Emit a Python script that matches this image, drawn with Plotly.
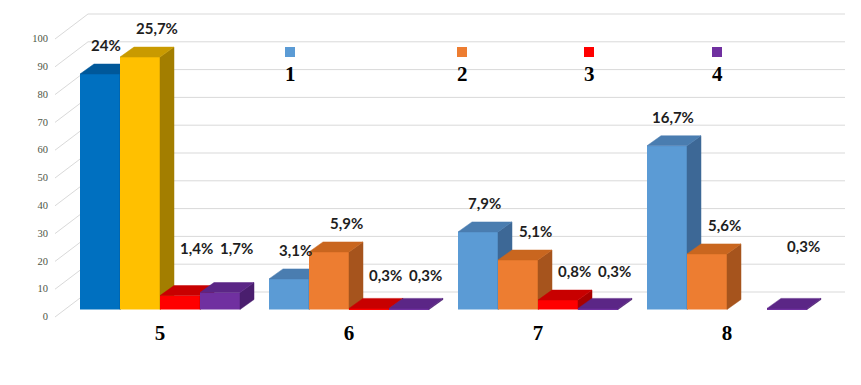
import plotly.graph_objects as go

# ---------------- data ----------------
CATEGORIES = ["5", "6", "7", "8"]
SERIES = ["1", "2", "3", "4"]
S1 = [84.7, 11.0, 27.9, 58.9]
S2 = [90.8, 20.7, 17.8, 20.0]
S3 = [5.0, 0.4, 3.4, 0.0]
S4 = [6.1, 0.4, 0.4, 0.4]
L1 = ["24%", "3,1%", "7,9%", "16,7%"]
L2 = ["25,7%", "5,9%", "5,1%", "5,6%"]
L3 = ["1,4%", "0,3%", "0,8%", ""]
L4 = ["1,7%", "0,3%", "0,3%", "0,3%"]
Y_TICKS = list(range(0, 101, 10))

VALUES = [S1, S2, S3, S4]
LABELS = [L1, L2, L3, L4]

# ---------------- styles ----------------
FRONT = [["#0070C0", "#5B9BD5", "#5B9BD5", "#5B9BD5"],
         ["#FFC000", "#ED7D31", "#ED7D31", "#ED7D31"],
         ["#FF0000"] * 4,
         ["#7030A0"] * 4]
TOP = [["#00589A", "#4A7DB0", "#4A7DB0", "#4A7DB0"],
       ["#C99A00", "#C9661F", "#C9661F", "#C9661F"],
       ["#C80000"] * 4,
       ["#5B2686"] * 4]
SIDE = [["#004B85", "#3D6896", "#3D6896", "#3D6896"],
        ["#A37E00", "#A6541D", "#A6541D", "#A6541D"],
        ["#A80000"] * 4,
        ["#4A1E6E"] * 4]
LEGEND_COLORS = ["#5B9BD5", "#ED7D31", "#FF0000", "#7030A0"]

W_PX, H_PX = 861, 385
ML, MR, MT, MB = 55, 16, 5, 63
PLOT_W = W_PX - ML - MR
PLOT_H = H_PX - MT - MB
PX_PER_X = 189.0
PX_PER_Y = 2.78
ZERO_PX = 309.5
X_RANGE = [-(160 - ML) / PX_PER_X, 3 + (W_PX - MR - 727) / PX_PER_X]
Y_RANGE = [-((H_PX - MB) - ZERO_PX) / PX_PER_Y, (ZERO_PX - MT) / PX_PER_Y]
BW = 40 / PX_PER_X
DX = 14 / PX_PER_X
DY = 10 / PX_PER_Y
OFFSETS = [-1.5 * BW, -0.5 * BW, 0.5 * BW, 1.5 * BW]
LABEL_FLOOR = [22, 12.5, 14, 23]
LABEL_SHIFT_PX = [-1, 10, 9, 9]
LEGEND_X = [290, 462, 589, 717]


def px_x(px):
    return (px - ML) / PLOT_W


def px_y(py):
    return ((H_PX - MB) - py) / PLOT_H


fig = go.Figure()

layout_axes = {}
for j, vals in enumerate(VALUES):
    xa = "x" if j == 0 else f"x{j + 1}"
    ya = "y" if j == 0 else f"y{j + 1}"
    xs = [i + OFFSETS[j] for i in range(len(CATEGORIES))]
    fig.add_trace(go.Bar(
        x=xs, y=vals, width=[BW] * len(vals), name=SERIES[j],
        marker=dict(color=FRONT[j], line=dict(width=0)),
        xaxis=xa, yaxis=ya, showlegend=False, hoverinfo="skip"))
    for i, v in enumerate(vals):
        if v <= 0:
            continue
        xl = xs[i] - BW / 2
        xr = xs[i] + BW / 2
        # side face
        fig.add_trace(go.Scatter(
            x=[xr, xr + DX, xr + DX, xr, xr], y=[0, DY, v + DY, v, 0],
            fill="toself", fillcolor=SIDE[j][i], mode="lines",
            line=dict(width=0.5, color=SIDE[j][i]),
            xaxis=xa, yaxis=ya, showlegend=False, hoverinfo="skip"))
        # top face
        fig.add_trace(go.Scatter(
            x=[xl, xr, xr + DX, xl + DX, xl], y=[v, v, v + DY, v + DY, v],
            fill="toself", fillcolor=TOP[j][i], mode="lines",
            line=dict(width=0.5, color=TOP[j][i]),
            xaxis=xa, yaxis=ya, showlegend=False, hoverinfo="skip"))
    if j > 0:
        layout_axes[f"xaxis{j + 1}"] = dict(overlaying="x", anchor=f"y{j + 1}",
                                             range=X_RANGE, visible=False, fixedrange=True)
        layout_axes[f"yaxis{j + 1}"] = dict(overlaying="y", anchor=f"x{j + 1}",
                                             range=Y_RANGE, visible=False, fixedrange=True)

# gridlines: diagonal from front edge to back wall, then along the wall
shapes = []
for v in Y_TICKS:
    y_front = v - 7.5 / PX_PER_Y
    y_wall = v + (ZERO_PX - 292) / PX_PER_Y
    shapes.append(dict(
        type="path", xref="paper", yref="y", layer="below",
        path=f"M 0,{y_front} L {px_x(88)},{y_wall} L 1,{y_wall}",
        line=dict(color="#D9D9D9", width=1)))

# legend (square above label)
annotations = []
for k, name in enumerate(SERIES):
    cx = LEGEND_X[k]
    shapes.append(dict(type="rect", xref="paper", yref="paper",
                       x0=px_x(cx - 5), x1=px_x(cx + 5),
                       y0=px_y(57), y1=px_y(47),
                       fillcolor=LEGEND_COLORS[k], line=dict(width=0)))
    annotations.append(dict(xref="paper", yref="paper", x=px_x(cx), y=px_y(74),
                            text=f"<b>{name}</b>", showarrow=False,
                            xanchor="center", yanchor="middle",
                            font=dict(family="Liberation Serif", size=21, color="#000000")))

# data labels
for j, vals in enumerate(VALUES):
    for i, v in enumerate(vals):
        if not LABELS[j][i]:
            continue
        annotations.append(dict(
            xref="x", yref="y",
            x=i + OFFSETS[j] + DX / 2 + LABEL_SHIFT_PX[j] / PX_PER_X,
            y=max(v + 10.5, LABEL_FLOOR[i]),
            text=f"<b>{LABELS[j][i]}</b>", showarrow=False,
            xanchor="center", yanchor="middle",
            font=dict(family="Lato, Open Sans, sans-serif", size=15, color="#1E1E1E")))

fig.update_layout(
    width=W_PX, height=H_PX, autosize=False,
    margin=dict(l=ML, r=MR, t=MT, b=MB),
    paper_bgcolor="white", plot_bgcolor="white",
    showlegend=False, barmode="overlay",
    xaxis=dict(range=X_RANGE, tickvals=list(range(len(CATEGORIES))), ticktext=CATEGORIES,
               showgrid=False, zeroline=False, showline=False, ticks="", automargin=False,
               ticklabelstandoff=-4,
               tickfont=dict(family="Liberation Serif", size=21, color="#000000", weight="bold"),
               fixedrange=True),
    yaxis=dict(range=Y_RANGE, tickvals=Y_TICKS, showgrid=False, zeroline=False,
               showline=False, ticks="", ticklabelshift=7, ticklabelstandoff=6,
               automargin=False,
               tickfont=dict(family="Liberation Serif", size=10.5, color="#4D5545"),
               fixedrange=True),
    shapes=shapes, annotations=annotations,
    **layout_axes)

fig.write_html("out.html", config={"displayModeBar": False},
               post_script="document.body.style.margin='0';document.body.style.overflow='hidden';")
